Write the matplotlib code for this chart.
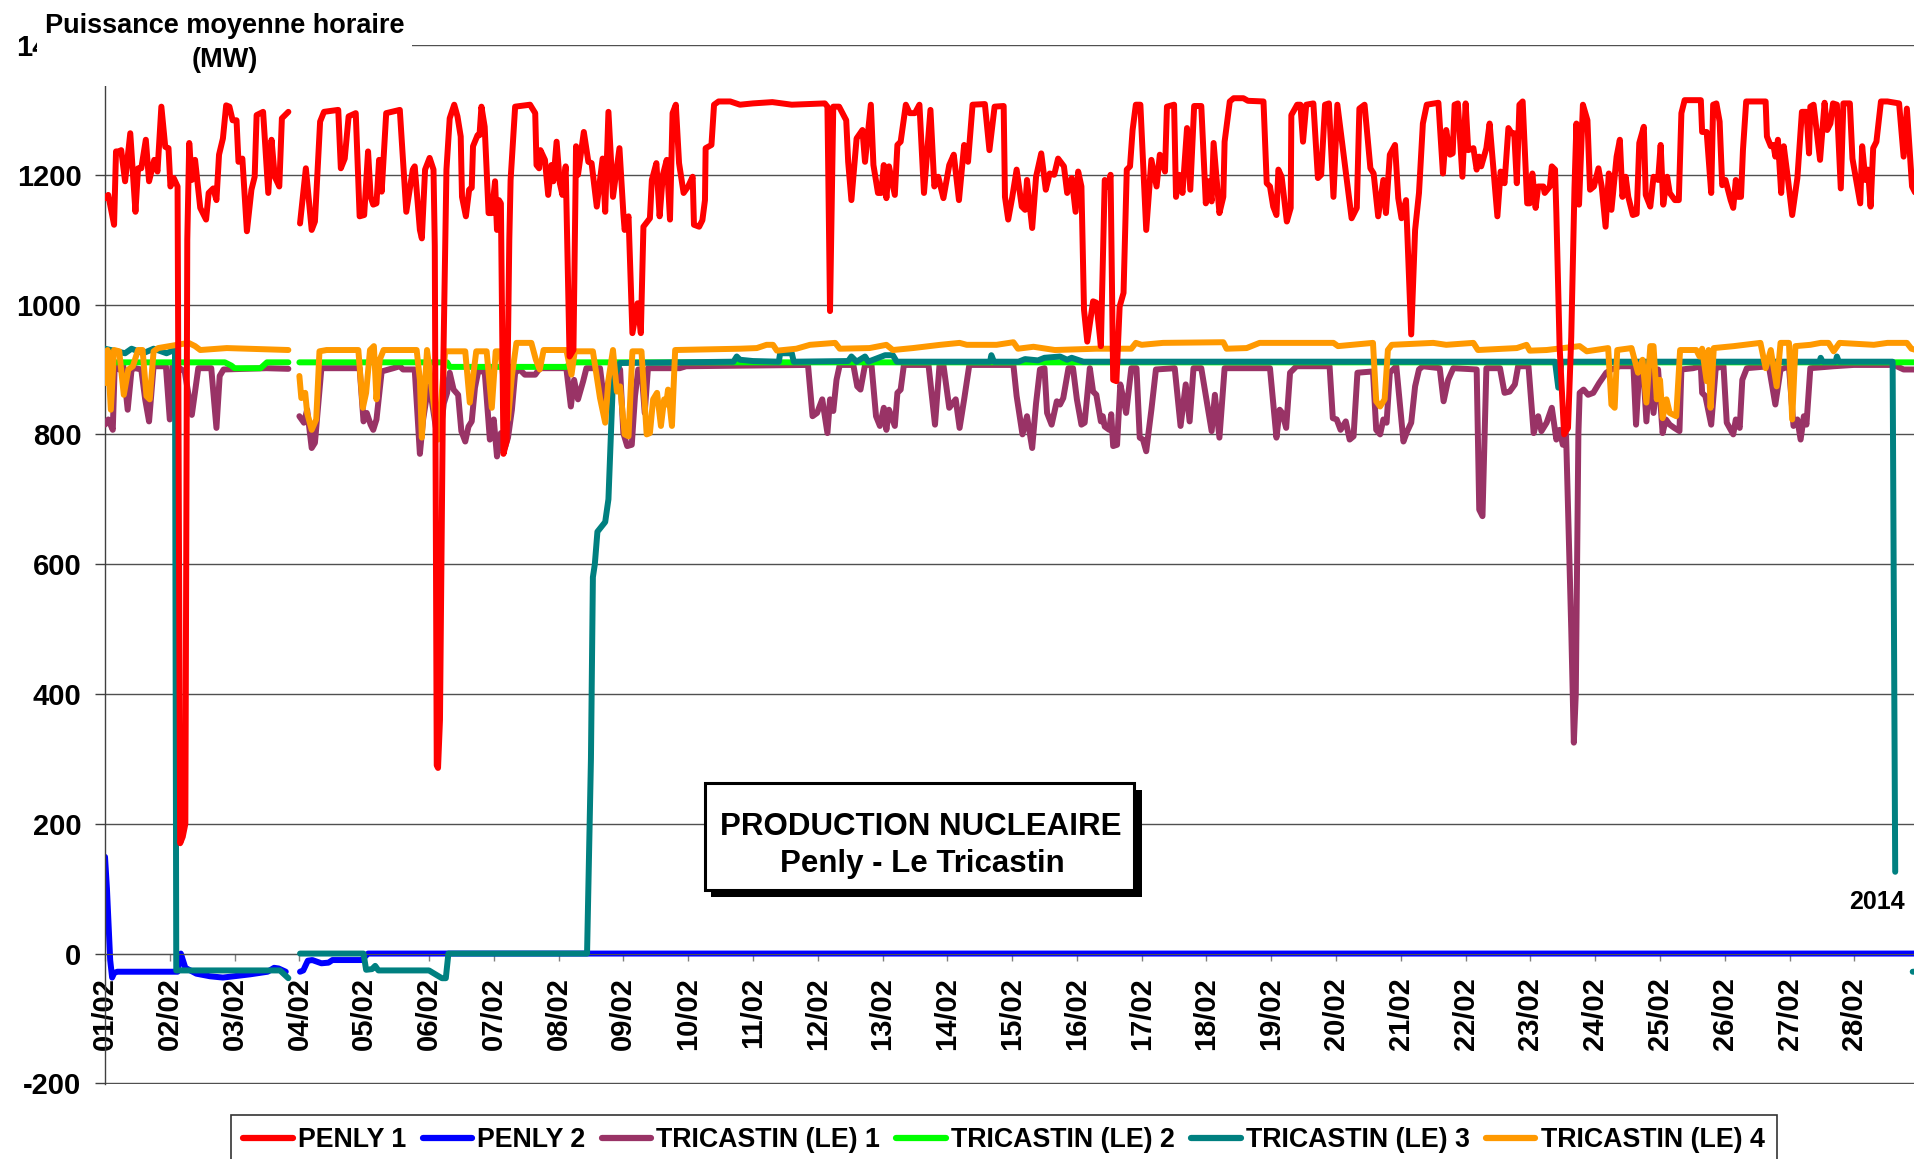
import numpy as np
import matplotlib
matplotlib.use("Agg")
import matplotlib.pyplot as plt
from matplotlib.patches import Rectangle
from matplotlib.lines import Line2D

W, H, DPI = 1914, 1159, 100
nan = np.nan

# hourly mean power (MW) as (day since 01/02 00:00, MW)
PENLY1 = [
    (0.00, 1164), (0.05, 1169), (0.14, 1123), (0.17, 1236), (0.22, 1236), (0.25, 1238), (0.31, 1190),
    (0.39, 1264), (0.47, 1143), (0.51, 1210), (0.56, 1210), (0.63, 1254), (0.68, 1190), (0.76, 1223),
    (0.81, 1205), (0.87, 1305), (0.93, 1243), (0.98, 1241), (1.01, 1182), (1.06, 1195), (1.12, 1182),
    (1.16, 170), (1.20, 180), (1.24, 200), (1.27, 1100), (1.30, 1249), (1.34, 1192), (1.39, 1223),
    (1.47, 1149), (1.56, 1131), (1.60, 1172), (1.67, 1179), (1.72, 1161), (1.76, 1231), (1.82, 1256),
    (1.87, 1307), (1.92, 1305), (1.97, 1284), (2.03, 1284), (2.06, 1220), (2.12, 1225), (2.19, 1113),
    (2.26, 1177), (2.31, 1197), (2.34, 1292), (2.44, 1297), (2.52, 1172), (2.57, 1254), (2.62, 1197),
    (2.69, 1182), (2.73, 1287), (2.83, 1297), (2.92, nan), (3.01, 1125), (3.10, 1210), (3.19, 1115),
    (3.24, 1128), (3.32, 1282), (3.38, 1297), (3.60, 1300), (3.64, 1210), (3.70, 1225), (3.76, 1290),
    (3.87, 1295), (3.93, 1136), (4.00, 1138), (4.06, 1236), (4.10, 1166), (4.14, 1154), (4.19, 1156),
    (4.23, 1223), (4.27, 1174), (4.34, 1295), (4.55, 1300), (4.65, 1143), (4.75, 1208), (4.78, 1213),
    (4.86, 1115), (4.89, 1102), (4.94, 1208), (5.01, 1226), (5.07, 1208), (5.09, 1090), (5.12, 290),
    (5.14, 286), (5.17, 360), (5.22, 900), (5.27, 1208), (5.32, 1287), (5.39, 1308), (5.44, 1290),
    (5.49, 1259), (5.51, 1166), (5.57, 1136), (5.62, 1177), (5.66, 1180), (5.68, 1244), (5.75, 1261),
    (5.78, 1261), (5.81, 1305), (5.86, 1274), (5.92, 1141), (5.97, 1141), (6.02, 1190), (6.05, 1115),
    (6.08, 1161), (6.11, 1156), (6.15, 770), (6.20, 790), (6.24, 1100), (6.26, 1192), (6.33, 1305),
    (6.56, 1308), (6.64, 1295), (6.66, 1215), (6.70, 1210), (6.72, 1238), (6.79, 1223), (6.84, 1169),
    (6.89, 1215), (6.92, 1190), (6.97, 1251), (7.02, 1187), (7.06, 1169), (7.11, 1213), (7.17, 920),
    (7.23, 930), (7.27, 1244), (7.30, 1200), (7.39, 1266), (7.46, 1220), (7.51, 1218), (7.59, 1151),
    (7.68, 1225), (7.72, 1143), (7.77, 1297), (7.84, 1166), (7.94, 1241), (8.00, 1141), (8.02, 1115),
    (8.08, 1136), (8.14, 956), (8.22, 1002), (8.27, 956), (8.31, 1120), (8.41, 1133), (8.44, 1192),
    (8.51, 1218), (8.56, 1136), (8.61, 1200), (8.67, 1223), (8.72, 1131), (8.76, 1295), (8.81, 1308),
    (8.86, 1218), (8.93, 1172), (9.00, 1182), (9.07, 1197), (9.09, 1123), (9.17, 1120), (9.22, 1130),
    (9.26, 1161), (9.27, 1241), (9.36, 1246), (9.40, 1308), (9.47, 1313), (9.65, 1313), (9.80, 1308),
    (10.00, 1310), (10.30, 1312), (10.60, 1308), (11.11, 1310), (11.15, 1305), (11.19, 990), (11.24, 1305),
    (11.33, 1305), (11.44, 1284), (11.47, 1220), (11.52, 1161), (11.60, 1256), (11.69, 1269), (11.73, 1220),
    (11.82, 1308), (11.86, 1215), (11.93, 1172), (11.98, 1172), (12.02, 1215), (12.06, 1164), (12.10, 1213),
    (12.19, 1169), (12.23, 1246), (12.28, 1251), (12.36, 1308), (12.42, 1295), (12.50, 1295), (12.57, 1308),
    (12.64, 1172), (12.74, 1300), (12.80, 1182), (12.86, 1197), (12.94, 1164), (13.03, 1215), (13.10, 1231),
    (13.18, 1161), (13.26, 1246), (13.32, 1220), (13.39, 1308), (13.58, 1309), (13.65, 1238), (13.73, 1305),
    (13.87, 1306), (13.89, 1166), (13.94, 1131), (14.00, 1164), (14.07, 1208), (14.15, 1151), (14.20, 1146),
    (14.23, 1192), (14.31, 1118), (14.37, 1197), (14.45, 1233), (14.52, 1177), (14.58, 1202), (14.65, 1200),
    (14.71, 1225), (14.80, 1213), (14.85, 1172), (14.92, 1195), (14.98, 1143), (15.02, 1205), (15.07, 1182),
    (15.11, 992), (15.16, 943), (15.25, 1005), (15.30, 1003), (15.37, 936), (15.43, 1192), (15.48, 1182),
    (15.52, 1200), (15.56, 884), (15.61, 882), (15.66, 997), (15.72, 1018), (15.77, 1208), (15.82, 1213),
    (15.86, 1269), (15.91, 1308), (15.98, 1308), (16.07, 1115), (16.15, 1223), (16.23, 1182), (16.28, 1231),
    (16.36, 1205), (16.39, 1305), (16.50, 1308), (16.53, 1166), (16.58, 1200), (16.63, 1172), (16.70, 1272),
    (16.75, 1177), (16.81, 1306), (16.92, 1306), (16.99, 1156), (17.03, 1190), (17.08, 1159), (17.11, 1249),
    (17.20, 1141), (17.26, 1166), (17.28, 1251), (17.36, 1313), (17.42, 1318), (17.57, 1318), (17.64, 1314),
    (17.88, 1313), (17.93, 1187), (17.98, 1182), (18.03, 1151), (18.08, 1138), (18.11, 1208), (18.16, 1197),
    (18.24, 1128), (18.30, 1149), (18.31, 1292), (18.40, 1308), (18.45, 1308), (18.49, 1251), (18.54, 1308),
    (18.65, 1310), (18.72, 1195), (18.77, 1200), (18.83, 1308), (18.89, 1310), (18.96, 1166), (19.02, 1308),
    (19.16, 1197), (19.24, 1133), (19.32, 1149), (19.36, 1302), (19.44, 1308), (19.53, 1210), (19.58, 1202),
    (19.65, 1136), (19.73, 1192), (19.77, 1141), (19.83, 1231), (19.91, 1246), (19.96, 1164), (20.01, 1133),
    (20.08, 1161), (20.16, 954), (20.22, 1115), (20.28, 1172), (20.34, 1279), (20.40, 1308), (20.58, 1311),
    (20.65, 1202), (20.70, 1269), (20.76, 1231), (20.80, 1233), (20.83, 1308), (20.88, 1310), (20.95, 1197),
    (21.00, 1310), (21.04, 1238), (21.12, 1241), (21.17, 1208), (21.21, 1228), (21.24, 1213), (21.32, 1241),
    (21.37, 1279), (21.43, 1208), (21.49, 1136), (21.54, 1205), (21.60, 1187), (21.66, 1272), (21.71, 1264),
    (21.75, 1264), (21.79, 1187), (21.83, 1308), (21.88, 1313), (21.95, 1156), (21.99, 1156), (22.03, 1202),
    (22.08, 1149), (22.12, 1182), (22.20, 1182), (22.22, 1172), (22.30, 1182), (22.33, 1213), (22.38, 1208),
    (22.40, 1141), (22.45, 936), (22.52, 800), (22.58, 810), (22.63, 950), (22.68, 1180), (22.71, 1279),
    (22.75, 1154), (22.81, 1308), (22.88, 1284), (22.92, 1177), (22.98, 1182), (23.05, 1210), (23.10, 1182),
    (23.16, 1120), (23.21, 1202), (23.25, 1146), (23.33, 1228), (23.38, 1254), (23.42, 1166), (23.47, 1197),
    (23.51, 1166), (23.58, 1138), (23.64, 1140), (23.68, 1249), (23.75, 1274), (23.78, 1169), (23.85, 1151),
    (23.90, 1197), (23.97, 1192), (24.01, 1246), (24.05, 1154), (24.11, 1197), (24.15, 1172), (24.23, 1161),
    (24.29, 1161), (24.33, 1295), (24.38, 1315), (24.63, 1315), (24.65, 1266), (24.72, 1266), (24.79, 1172),
    (24.82, 1308), (24.87, 1310), (24.92, 1282), (24.96, 1184), (25.01, 1192), (25.09, 1161), (25.13, 1149),
    (25.17, 1192), (25.20, 1166), (25.25, 1166), (25.28, 1238), (25.33, 1313), (25.63, 1313), (25.65, 1259),
    (25.71, 1244), (25.75, 1246), (25.78, 1228), (25.82, 1254), (25.87, 1172), (25.91, 1244), (25.97, 1197),
    (26.04, 1138), (26.12, 1195), (26.19, 1297), (26.26, 1297), (26.30, 1233), (26.32, 1305), (26.37, 1308),
    (26.47, 1223), (26.54, 1311), (26.58, 1269), (26.63, 1279), (26.67, 1310), (26.73, 1308), (26.79, 1179),
    (26.83, 1310), (26.93, 1310), (26.97, 1225), (27.03, 1190), (27.09, 1156), (27.12, 1244), (27.17, 1192),
    (27.21, 1208), (27.25, 1151), (27.29, 1241), (27.34, 1251), (27.41, 1313), (27.51, 1313), (27.69, 1310),
    (27.76, 1228), (27.81, 1302), (27.89, 1182), (27.95, 1170),
]

PENLY2 = [
    (0.00, 149), (0.03, 100), (0.08, -10), (0.11, -37), (0.14, -30), (0.19, -28), (1.08, -28), (1.12, -28),
    (1.17, 0), (1.24, -22), (1.41, -31), (1.62, -35), (1.82, -37), (2.24, -32), (2.51, -28), (2.61, -22),
    (2.68, -23), (2.79, -28), (2.92, nan), (3.01, -28), (3.06, -26), (3.13, -11), (3.20, -10), (3.34, -15),
    (3.45, -14), (3.51, -10), (3.96, -10), (4.06, 0), (27.95, 0),
]

TRICASTIN1 = [
    (0.00, 815), (0.05, 823), (0.12, 807), (0.15, 907), (0.22, 900), (0.28, 907), (0.35, 838), (0.41, 900),
    (0.47, 902), (0.56, 900), (0.62, 854), (0.68, 820), (0.75, 905), (0.94, 905), (1.00, 823), (1.04, 905),
    (1.15, 902), (1.23, 897), (1.34, 830), (1.44, 902), (1.64, 902), (1.72, 810), (1.77, 890), (1.83, 900),
    (2.49, 902), (2.83, 901), (2.92, nan), (3.00, 828), (3.07, 818), (3.12, 838), (3.19, 779), (3.24, 787),
    (3.34, 902), (3.93, 902), (3.99, 820), (4.04, 833), (4.10, 815), (4.14, 807), (4.19, 823), (4.27, 897),
    (4.45, 902), (4.55, 905), (4.60, 900), (4.78, 900), (4.86, 770), (4.91, 823), (4.99, 874), (5.04, 854),
    (5.12, 802), (5.17, 797), (5.23, 848), (5.28, 864), (5.32, 895), (5.38, 869), (5.45, 861), (5.50, 805),
    (5.56, 789), (5.61, 812), (5.66, 820), (5.71, 872), (5.76, 897), (5.86, 897), (5.94, 792), (6.00, 823),
    (6.05, 766), (6.11, 802), (6.17, 779), (6.22, 795), (6.28, 838), (6.33, 895), (6.40, 900), (6.48, 892),
    (6.64, 892), (6.71, 902), (7.12, 902), (7.19, 843), (7.24, 884), (7.30, 854), (7.38, 882), (7.43, 902),
    (7.64, 902), (7.70, 854), (7.82, 900), (7.95, 900), (8.00, 802), (8.06, 782), (8.13, 784), (8.18, 859),
    (8.23, 900), (8.28, 900), (8.33, 833), (8.38, 902), (8.87, 902), (8.97, 905), (10.85, 907), (10.92, 828),
    (10.99, 833), (11.07, 854), (11.15, 802), (11.19, 854), (11.24, 836), (11.29, 884), (11.34, 907),
    (11.55, 907), (11.61, 874), (11.66, 869), (11.73, 907), (11.83, 907), (11.90, 828), (11.96, 813),
    (12.02, 841), (12.06, 807), (12.10, 838), (12.19, 813), (12.23, 864), (12.28, 869), (12.33, 907),
    (12.71, 907), (12.81, 815), (12.88, 907), (12.94, 907), (13.03, 841), (13.13, 854), (13.19, 810),
    (13.26, 854), (13.34, 907), (14.02, 907), (14.07, 859), (14.16, 800), (14.23, 828), (14.31, 779),
    (14.37, 848), (14.43, 900), (14.50, 902), (14.54, 833), (14.61, 815), (14.69, 851), (14.74, 846),
    (14.79, 856), (14.87, 902), (14.94, 902), (15.00, 854), (15.07, 815), (15.12, 818), (15.20, 902),
    (15.25, 866), (15.30, 861), (15.37, 820), (15.40, 828), (15.43, 812), (15.50, 807), (15.53, 831),
    (15.56, 782), (15.62, 784), (15.67, 877), (15.72, 854), (15.76, 833), (15.84, 902), (15.92, 902),
    (15.97, 795), (16.02, 792), (16.07, 774), (16.15, 838), (16.22, 900), (16.51, 902), (16.60, 813),
    (16.68, 877), (16.74, 820), (16.80, 902), (16.92, 902), (17.00, 854), (17.08, 805), (17.13, 861),
    (17.20, 795), (17.28, 902), (17.98, 902), (18.08, 795), (18.13, 838), (18.17, 833), (18.23, 810),
    (18.29, 895), (18.39, 905), (18.90, 905), (18.95, 825), (19.01, 823), (19.07, 807), (19.15, 820),
    (19.21, 792), (19.27, 797), (19.33, 895), (19.57, 897), (19.62, 807), (19.68, 800), (19.73, 823),
    (19.78, 818), (19.83, 895), (19.93, 905), (20.04, 789), (20.10, 805), (20.16, 818), (20.22, 874),
    (20.28, 900), (20.34, 905), (20.60, 902), (20.66, 851), (20.73, 884), (20.81, 902), (21.17, 900),
    (21.21, 684), (21.26, 674), (21.32, 902), (21.53, 902), (21.60, 864), (21.68, 866), (21.76, 877),
    (21.81, 905), (21.97, 905), (22.05, 802), (22.12, 828), (22.17, 805), (22.25, 818), (22.33, 841),
    (22.40, 792), (22.45, 807), (22.50, 784), (22.55, 800), (22.63, 500), (22.67, 325), (22.70, 400),
    (22.74, 800), (22.76, 864), (22.82, 869), (22.89, 861), (22.97, 864), (23.06, 879), (23.17, 895),
    (23.25, 900), (23.38, 905), (23.59, 905), (23.63, 815), (23.68, 900), (23.74, 902), (23.79, 820),
    (23.84, 900), (23.90, 833), (23.97, 900), (24.04, 802), (24.09, 823), (24.15, 815), (24.22, 810),
    (24.30, 805), (24.33, 900), (24.51, 902), (24.63, 905), (24.65, 864), (24.70, 859), (24.79, 815),
    (24.86, 902), (24.98, 905), (25.03, 818), (25.13, 800), (25.17, 823), (25.23, 810), (25.27, 884),
    (25.34, 902), (25.68, 905), (25.78, 846), (25.86, 900), (25.99, 905), (26.06, 813), (26.12, 823),
    (26.17, 792), (26.22, 828), (26.26, 815), (26.32, 902), (26.68, 905), (26.99, 907), (27.61, 907),
    (27.76, 900), (27.95, 900),
]

TRICASTIN2 = [
    (0.00, 911), (1.85, 911), (1.95, 906), (2.00, 902), (2.40, 902), (2.50, 911), (2.83, 911), (2.92, nan),
    (3.00, 911), (5.28, 911), (5.32, 904), (7.12, 904), (7.20, 911), (27.95, 911),
]

TRICASTIN3 = [
    (0.00, 932), (0.31, 925), (0.41, 932), (0.59, 925), (0.75, 932), (0.95, 925), (1.04, 929), (1.08, 929),
    (1.10, -26), (2.70, -26), (2.83, -38), (2.92, nan), (3.01, 0), (3.99, 0), (4.03, -25), (4.12, -24),
    (4.17, -19), (4.22, -26), (5.00, -26), (5.20, -38), (5.26, -38), (5.30, 0), (7.44, 0), (7.50, 300),
    (7.53, 580), (7.56, 600), (7.60, 650), (7.72, 665), (7.77, 700), (7.84, 884), (7.95, 910), (9.70, 912),
    (9.75, 920), (9.80, 915), (10.00, 913), (10.40, 912), (10.42, 925), (10.60, 925), (10.63, 912),
    (11.47, 913), (11.52, 920), (11.60, 912), (11.73, 920), (11.78, 912), (12.04, 922), (12.16, 922),
    (12.22, 912), (13.66, 912), (13.68, 922), (13.72, 912), (14.10, 912), (14.20, 916), (14.40, 914),
    (14.50, 918), (14.74, 920), (14.85, 915), (14.92, 918), (15.10, 912), (22.38, 912), (22.43, 872),
    (22.48, 912), (26.46, 912), (26.48, 918), (26.51, 912), (26.71, 912), (26.73, 920), (26.76, 912),
    (27.59, 912), (27.63, 126), (27.64, nan), (27.90, -28), (27.95, -28),
]

TRICASTIN4 = [
    (0.00, 879), (0.04, 930), (0.09, 838), (0.14, 930), (0.22, 928), (0.29, 861), (0.36, 900), (0.43, 905),
    (0.51, 930), (0.58, 930), (0.64, 859), (0.69, 854), (0.75, 928), (0.82, 933), (1.11, 938), (1.29, 941),
    (1.39, 936), (1.47, 930), (1.88, 933), (2.83, 930), (2.92, nan), (3.00, 890), (3.03, 856), (3.09, 864),
    (3.12, 833), (3.19, 807), (3.26, 823), (3.31, 928), (3.42, 930), (3.91, 930), (3.98, 841), (4.03, 864),
    (4.09, 930), (4.15, 936), (4.19, 854), (4.24, 915), (4.30, 930), (4.81, 930), (4.86, 884), (4.89, 795),
    (4.97, 930), (5.04, 874), (5.14, 792), (5.25, 928), (5.56, 928), (5.63, 849), (5.73, 928), (5.89, 928),
    (5.97, 841), (6.03, 928), (6.10, 928), (6.17, 869), (6.22, 823), (6.28, 890), (6.35, 941), (6.58, 941),
    (6.65, 915), (6.71, 900), (6.77, 930), (7.12, 930), (7.20, 892), (7.25, 928), (7.53, 928), (7.64, 856),
    (7.72, 818), (7.77, 884), (7.84, 930), (7.90, 866), (7.95, 874), (8.02, 800), (8.08, 797), (8.14, 928),
    (8.28, 928), (8.36, 800), (8.41, 802), (8.46, 854), (8.52, 864), (8.58, 813), (8.63, 854), (8.66, 846),
    (8.69, 869), (8.75, 813), (8.80, 930), (9.80, 932), (10.06, 933), (10.21, 938), (10.31, 938),
    (10.37, 929), (10.67, 932), (10.88, 938), (11.27, 941), (11.34, 932), (11.80, 933), (12.06, 938),
    (12.16, 930), (12.47, 933), (12.89, 938), (13.19, 941), (13.30, 938), (13.76, 938), (14.02, 942),
    (14.09, 932), (14.33, 935), (14.66, 930), (15.30, 932), (15.84, 932), (15.91, 941), (16.00, 938),
    (16.33, 941), (17.26, 942), (17.31, 932), (17.62, 933), (17.82, 941), (18.96, 941), (19.03, 936),
    (19.57, 941), (19.62, 851), (19.68, 843), (19.75, 854), (19.80, 930), (19.86, 938), (20.50, 941),
    (20.70, 938), (21.12, 941), (21.19, 930), (21.79, 933), (21.94, 938), (21.99, 929), (22.25, 930),
    (22.76, 936), (22.87, 928), (23.20, 933), (23.25, 846), (23.30, 841), (23.34, 930), (23.56, 933),
    (23.66, 895), (23.73, 915), (23.79, 849), (23.85, 936), (23.90, 936), (23.95, 854), (24.00, 884),
    (24.04, 825), (24.10, 854), (24.15, 833), (24.25, 828), (24.31, 930), (24.56, 930), (24.61, 920),
    (24.65, 932), (24.72, 882), (24.75, 930), (24.78, 841), (24.83, 933), (25.14, 936), (25.55, 941),
    (25.63, 902), (25.71, 930), (25.80, 874), (25.86, 941), (25.99, 941), (26.04, 823), (26.09, 936),
    (26.32, 938), (26.48, 941), (26.60, 941), (26.68, 928), (26.77, 941), (27.30, 938), (27.51, 941),
    (27.81, 941), (27.88, 932), (27.95, 930),
]

SERIES = [
    ("PENLY 1", PENLY1, "#FF0000", 8),
    ("PENLY 2", PENLY2, "#0000FF", 2),
    ("TRICASTIN (LE) 1", TRICASTIN1, "#993366", 3),
    ("TRICASTIN (LE) 2", TRICASTIN2, "#00FF00", 4),
    ("TRICASTIN (LE) 3", TRICASTIN3, "#008080", 5),
    ("TRICASTIN (LE) 4", TRICASTIN4, "#FF9900", 6),
]

DAY_LABELS = ["%02d/02" % d for d in range(1, 29)]
Y_TICKS = list(range(-200, 1401, 200))
X_MAX = 27.92

plt.rcParams["font.family"] = ["Liberation Sans", "DejaVu Sans"]
plt.rcParams["font.weight"] = "bold"

fig = plt.figure(figsize=(W / DPI, H / DPI), dpi=DPI)
ax = fig.add_axes([105 / W, 75 / H, (W - 105) / W, 1039 / H])

# x axis sits on the zero line (set before ticks: moving a spine resets them)
for s in ("top", "right"):
    ax.spines[s].set_visible(False)
ax.spines["bottom"].set_position(("data", 0))
ax.spines["bottom"].set_color("#505050")
ax.spines["left"].set_color("#404040")
ax.spines["left"].set_linewidth(1.0)

for name, pts, color, z in SERIES:
    t = [p[0] for p in pts]
    v = [p[1] for p in pts]
    ax.plot(t, v, color=color, lw=4.3, zorder=z, solid_joinstyle="round", solid_capstyle="round")

ax.set_xlim(0, X_MAX)
ax.set_ylim(-201, 1400)
ax.set_yticks(Y_TICKS)
ax.set_yticklabels([str(y) for y in Y_TICKS], fontsize=21, fontweight="bold")
ax.set_xticks(range(len(DAY_LABELS)))
ax.set_xticklabels(DAY_LABELS, rotation=90, fontsize=21, fontweight="bold")
ax.tick_params(axis="y", direction="out", length=7, width=1, color="#404040", pad=10)
ax.tick_params(axis="x", direction="out", length=5, width=1, color="#808080", pad=12)

ax.grid(axis="y", color="#505050", lw=1.0)
ax.set_axisbelow(True)

# white box behind the unit title (hides the top of the axis)
fig.add_artist(Rectangle((37 / W, 1 - 86 / H), 375 / W, 86 / H, transform=fig.transFigure,
                         facecolor="white", edgecolor="none", zorder=5))
fig.text(225 / W, 1 - 33 / H, "Puissance moyenne horaire", ha="center", va="baseline",
         fontsize=19.5, fontweight="bold", zorder=6)
fig.text(225 / W, 1 - 67 / H, "(MW)", ha="center", va="baseline",
         fontsize=19.5, fontweight="bold", zorder=6)

# title box with drop shadow
fig.add_artist(Rectangle((711 / W, 1 - 897 / H), 431 / W, 107 / H, transform=fig.transFigure,
                         facecolor="black", edgecolor="none", zorder=10))
fig.add_artist(Rectangle((705 / W, 1 - 890 / H), 429 / W, 107 / H, transform=fig.transFigure,
                         facecolor="white", edgecolor="black", lw=2.2, zorder=11))
fig.text(921 / W, 1 - 835 / H, "PRODUCTION NUCLEAIRE", ha="center", va="baseline",
         fontsize=22.5, fontweight="bold", zorder=12)
fig.text(922 / W, 1 - 872 / H, "Penly - Le Tricastin", ha="center", va="baseline",
         fontsize=22.5, fontweight="bold", zorder=12)

fig.text(1905 / W, 1 - 909 / H, "2014", ha="right", va="baseline", fontsize=18, fontweight="bold")

handles = [Line2D([0], [0], color=c, lw=4.5, solid_capstyle="round") for _, _, c, _ in SERIES]
labels = [n for n, _, _, _ in SERIES]
leg = fig.legend(handles, labels, loc="center", bbox_to_anchor=(1004 / W, 1 - 1140 / H), ncol=6,
                 fontsize=19.25, frameon=True, fancybox=False, edgecolor="black",
                 handlelength=1.85, handletextpad=0.2, columnspacing=0.6, borderpad=0.45,
                 borderaxespad=0)
leg.get_frame().set_linewidth(1.2)
for txt in leg.get_texts():
    txt.set_fontweight("bold")

fig.savefig("out.png", dpi=DPI)
